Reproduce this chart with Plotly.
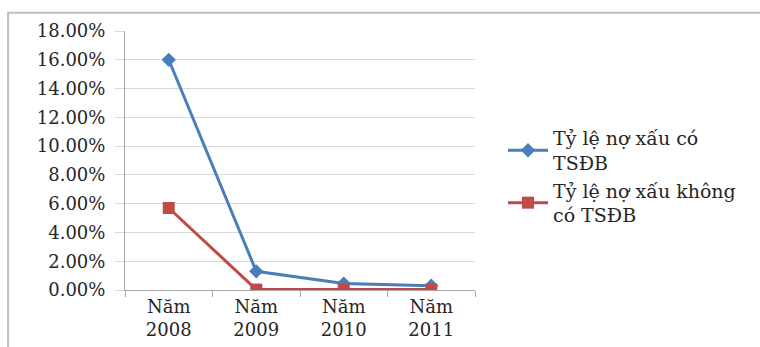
import plotly.graph_objects as go

years = ["Năm<br>2008", "Năm<br>2009", "Năm<br>2010", "Năm<br>2011"]
co_tsdb = [0.160, 0.013, 0.0045, 0.003]
khong_tsdb = [0.057, 0.0003, 0.0003, 0.0003]
name_co = "Tỷ lệ nợ xấu có<br>TSĐB"
name_khong = "Tỷ lệ nợ xấu không<br>có TSĐB"

FONT = "DejaVu Serif"
GRID = "#d9d9d9"
AXIS = "#a6a6a6"
TEXT = "#262626"

fig = go.Figure()
fig.add_trace(go.Scatter(
    x=years, y=co_tsdb, name=name_co, mode="lines+markers",
    line=dict(color="#4a7ebb", width=3),
    marker=dict(symbol="diamond", size=11, color="#4a7ebb"),
))
fig.add_trace(go.Scatter(
    x=years, y=khong_tsdb, name=name_khong, mode="lines+markers",
    line=dict(color="#be4b48", width=3),
    marker=dict(symbol="square", size=12, color="#be4b48"),
))

fig.update_layout(
    width=760, height=347,
    margin=dict(l=125, r=285, t=31, b=57),
    paper_bgcolor="white", plot_bgcolor="white",
    font=dict(family=FONT, size=18, color=TEXT),
    showlegend=True,
    legend=dict(
        x=1.08, y=0.66, xanchor="left", yanchor="top",
        font=dict(family=FONT, size=19, color=TEXT),
        tracegroupgap=4, itemwidth=40,
    ),
    shapes=[dict(
        type="rect", xref="paper", yref="paper",
        x0=-0.334, x1=1.9, y0=-0.5, y1=1.07,
        line=dict(color="#bfbfbf", width=2), layer="below",
    )],
)
fig.update_xaxes(
    type="category", range=[-0.5, 3.5], automargin=False,
    showline=True, linecolor=AXIS, linewidth=1,
    ticks="outside", tickson="boundaries", ticklen=6, tickcolor=AXIS,
    showgrid=False, zeroline=False,
    tickfont=dict(family=FONT, size=18, color=TEXT),
)
fig.update_yaxes(
    range=[0, 0.18], dtick=0.02, tickformat=".2%", automargin=False,
    showline=True, linecolor=AXIS, linewidth=1,
    ticks="outside", ticklen=9, tickcolor=GRID,
    ticklabelstandoff=6,
    showgrid=True, gridcolor=GRID, gridwidth=1, zeroline=False,
    tickfont=dict(family=FONT, size=18, color=TEXT),
)

fig.write_html("out.html")
